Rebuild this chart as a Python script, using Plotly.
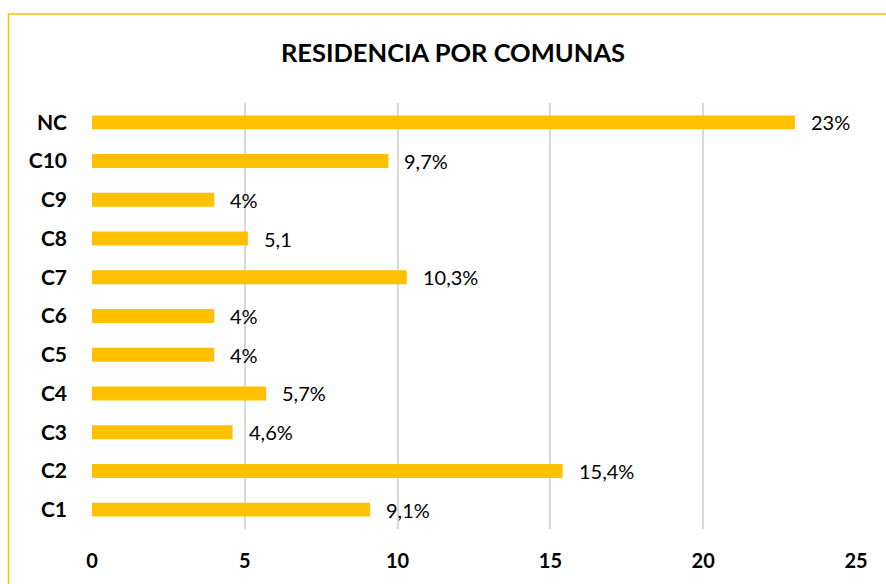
import plotly.graph_objects as go

categories = ["C1", "C2", "C3", "C4", "C5", "C6", "C7", "C8", "C9", "C10", "NC"]
values = [9.1, 15.4, 4.6, 5.7, 4, 4, 10.3, 5.1, 4, 9.7, 23]
labels = ["9,1%", "15,4%", "4,6%", "5,7%", "4%", "4%", "10,3%", "5,1", "4%", "9,7%", "23%"]
x_ticks = [0, 5, 10, 15, 20, 25]

W, H = 886, 584
ml, mt = 92, 103
mr = W - 856
mb = H - 529.4

fig = go.Figure()
fig.add_trace(go.Bar(
    x=values, y=categories, orientation="h",
    marker=dict(color="#FFC000", line=dict(width=0)),
    width=0.36, hoverinfo="skip",
))

for c, v, t in zip(categories, values, labels):
    fig.add_annotation(x=v, y=c, text=t, showarrow=False, xanchor="left",
                       yanchor="middle", xshift=14,
                       font=dict(family="Lato", size=20, color="#000000"))

pw = W - ml - mr
ph = H - mt - mb
# chart border (frame), partially outside image on right/bottom
fig.add_shape(type="rect", xref="paper", yref="paper",
              x0=(8.5 - ml) / pw, x1=1.2, y0=-0.4, y1=(529.4 - 14) / ph,
              line=dict(color="#FFC000", width=1.5), fillcolor="rgba(0,0,0,0)",
              layer="below")

fig.update_layout(
    width=W, height=H,
    margin=dict(l=ml, r=mr, t=mt, b=mb, autoexpand=False),
    paper_bgcolor="white", plot_bgcolor="white",
    showlegend=False,
    title=dict(text="<b>RESIDENCIA POR COMUNAS</b>", x=453 / W, xanchor="center",
               y=1 - 53 / H, yanchor="middle", yref="container",
               font=dict(family="Lato", size=25.5, color="#000000")),
    xaxis=dict(range=[0, 25], tickvals=x_ticks, showgrid=True, gridcolor="#D9D9D9",
               gridwidth=1.5, zeroline=False, showline=False, ticks="",
               ticklabelstandoff=18,
               tickfont=dict(family="Lato", size=20, color="#000000", weight="bold")),
    yaxis=dict(categoryorder="array", categoryarray=categories, showgrid=False,
               zeroline=False, showline=False, ticks="", ticklabelstandoff=24,
               tickfont=dict(family="Lato", size=21, color="#000000", weight="bold")),
    bargap=0.64,
)

fig.write_html(
    "out.html",
    config={"displayModeBar": False},
    post_script="document.body.style.margin='0';document.body.style.overflow='hidden';",
)
